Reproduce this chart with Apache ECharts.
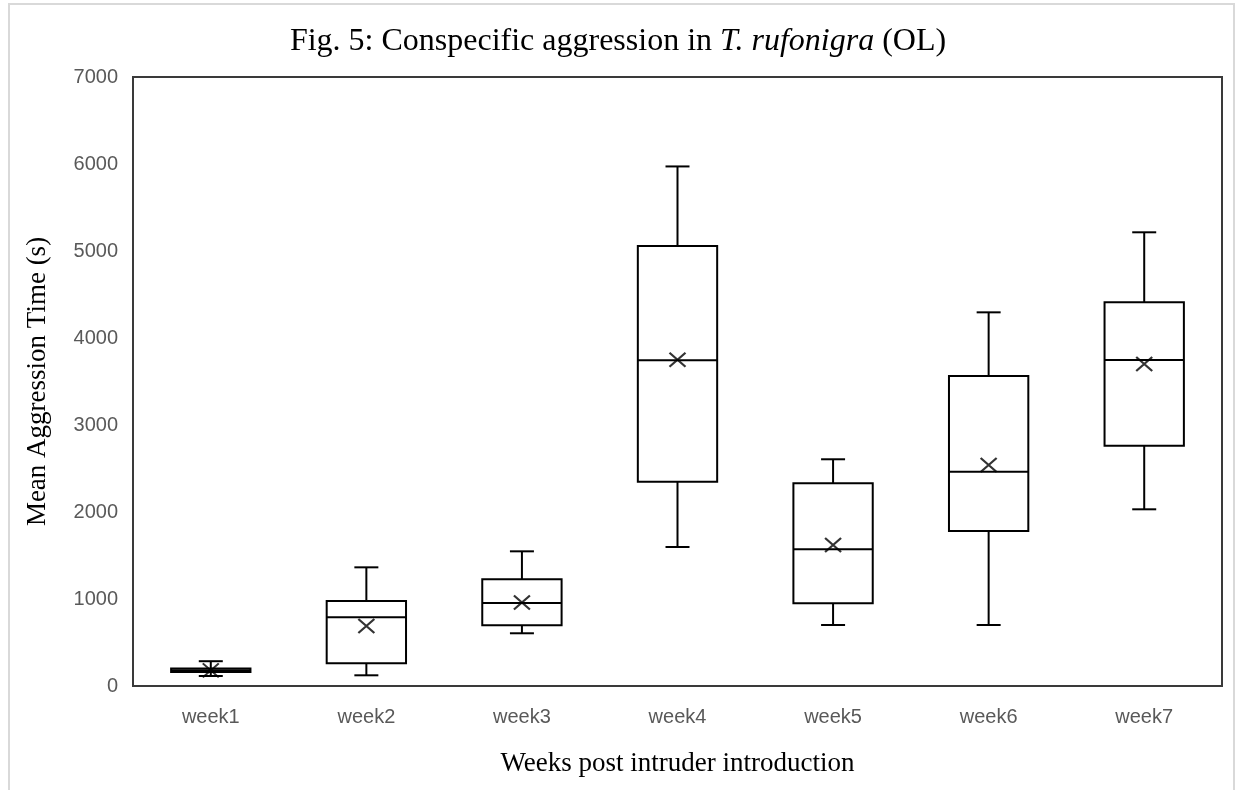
<!DOCTYPE html>
<html>
<head>
<meta charset="utf-8">
<script src="https://cdn.jsdelivr.net/npm/echarts@6/dist/echarts.min.js"></script>
<style>html,body{margin:0;padding:0;background:#fff;}#c{width:1236px;height:790px;}</style>
</head>
<body>
<div id="c"></div>
<script>
var categories = ['week1', 'week2', 'week3', 'week4', 'week5', 'week6', 'week7'];
var minVals    = [115, 123, 606, 1598, 701, 701, 2031];
var q1Vals     = [160, 261, 698, 2347, 951, 1782, 2762];
var medianVals = [182, 790, 954, 3743, 1571, 2463, 3747];
var q3Vals     = [200, 977, 1226, 5057, 2330, 3563, 4410];
var maxVals    = [285, 1364, 1548, 5972, 2606, 4295, 5215];
var meanVals   = [180, 690, 960, 3750, 1621, 2540, 3701];
var yTicks = { min: 0, max: 7000, interval: 1000 };

var boxData = categories.map(function (c, i) {
  return [i, minVals[i], q1Vals[i], medianVals[i], q3Vals[i], maxVals[i]];
});
var meanData = categories.map(function (c, i) { return [i, meanVals[i]]; });

var chart = echarts.init(document.getElementById('c'));
var serif = 'Liberation Serif';
var sans = 'Liberation Sans';

chart.setOption({
  backgroundColor: '#fff',
  animation: false,
  title: {
    text: 'Fig. 5: Conspecific aggression in {i|T. rufonigra} (OL)',
    left: 'center',
    top: 21,
    textStyle: {
      fontFamily: serif, fontSize: 32, fontWeight: 'normal', color: '#000',
      rich: { i: { fontFamily: serif, fontSize: 32, fontStyle: 'italic', color: '#000' } }
    }
  },
  graphic: [{
    type: 'rect', silent: true, z: -10,
    shape: { x: 9, y: 4, width: 1225, height: 800 },
    style: { fill: null, stroke: '#d9d9d9', lineWidth: 2 }
  }],
  grid: {
    left: 133, right: 14, top: 77, bottom: 104,
    show: true, borderColor: '#3a3a3a', borderWidth: 2, backgroundColor: 'transparent'
  },
  xAxis: {
    type: 'category',
    data: categories,
    name: 'Weeks post intruder introduction',
    nameLocation: 'middle',
    nameGap: 64,
    nameTextStyle: { fontFamily: serif, fontSize: 27, color: '#000' },
    axisLine: { show: false },
    axisTick: { show: false },
    axisLabel: { fontFamily: sans, fontSize: 20, color: '#595959', margin: 21 },
    splitLine: { show: false }
  },
  yAxis: {
    type: 'value',
    min: yTicks.min, max: yTicks.max, interval: yTicks.interval,
    name: 'Mean Aggression Time (s)',
    nameLocation: 'middle',
    nameGap: 82,
    nameTextStyle: { fontFamily: serif, fontSize: 27, color: '#000' },
    axisLine: { show: false },
    axisTick: { show: false },
    axisLabel: {
      fontFamily: sans, fontSize: 20, color: '#595959', margin: 15,
      formatter: function (v) { return String(v); }
    },
    splitLine: { show: false }
  },
  series: [{
    type: 'custom',
    data: boxData,
    encode: { x: 0, y: [1, 2, 3, 4, 5] },
    renderItem: function (params, api) {
      var idx = api.value(0);
      var pMin = api.coord([idx, api.value(1)]);
      var pQ1 = api.coord([idx, api.value(2)]);
      var pMed = api.coord([idx, api.value(3)]);
      var pQ3 = api.coord([idx, api.value(4)]);
      var pMax = api.coord([idx, api.value(5)]);
      var bw = api.size([1, 0])[0] * 0.51;
      var cw = 24;
      var cx = pMin[0];
      var st = { stroke: '#000', lineWidth: 2, fill: null };
      return {
        type: 'group',
        children: [
          { type: 'line', shape: { x1: cx, y1: pMax[1], x2: cx, y2: pQ3[1] }, style: st },
          { type: 'line', shape: { x1: cx, y1: pQ1[1], x2: cx, y2: pMin[1] }, style: st },
          { type: 'line', shape: { x1: cx - cw / 2, y1: pMax[1], x2: cx + cw / 2, y2: pMax[1] }, style: st },
          { type: 'line', shape: { x1: cx - cw / 2, y1: pMin[1], x2: cx + cw / 2, y2: pMin[1] }, style: st },
          { type: 'rect', shape: { x: cx - bw / 2, y: pQ3[1], width: bw, height: pQ1[1] - pQ3[1] },
            style: { fill: '#fff', stroke: '#000', lineWidth: 2 } },
          { type: 'line', shape: { x1: cx - bw / 2, y1: pMed[1], x2: cx + bw / 2, y2: pMed[1] }, style: st }
        ]
      };
    },
    z: 2
  }, {
    type: 'scatter',
    data: meanData,
    symbol: 'path://M0,0L10,10M10,0L0,10',
    symbolSize: [16, 14],
    itemStyle: { color: 'transparent', borderColor: '#000', borderWidth: 2 },
    z: 3
  }]
});
</script>
</body>
</html>
